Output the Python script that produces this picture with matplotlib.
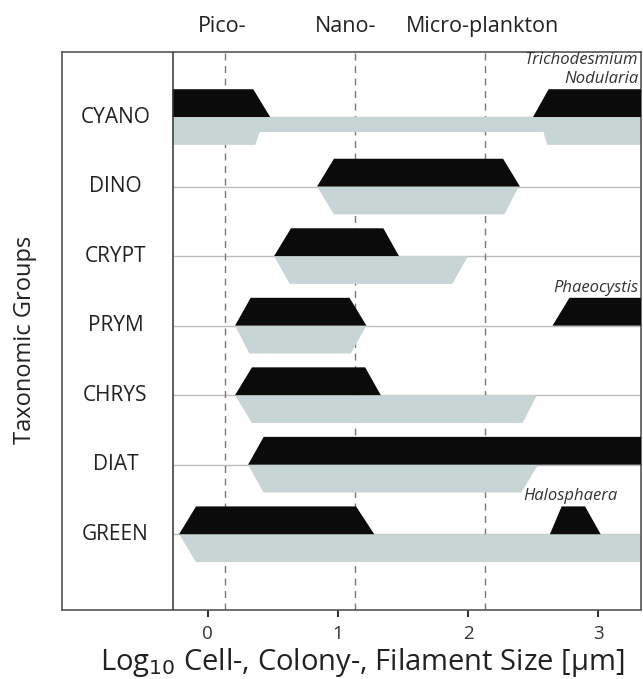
import matplotlib.pyplot as plt
from matplotlib.patches import Polygon
from matplotlib.transforms import blended_transform_factory

plt.rcParams['font.family'] = ['Open Sans', 'DejaVu Sans']

# taxonomic groups, top to bottom
groups = ["CYANO", "DINO", "CRYPT", "PRYM", "CHRYS", "DIAT", "GREEN"]

# black ranges: (bottom-left, top-left, top-right, bottom-right), log10 um
black_ranges = {
    "CYANO": [(-0.27, -0.27, 0.35, 0.48), (2.50, 2.62, 3.6, 3.6)],
    "DINO": [(0.84, 0.97, 2.27, 2.40)],
    "CRYPT": [(0.51, 0.64, 1.35, 1.47)],
    "PRYM": [(0.21, 0.33, 1.09, 1.22), (2.65, 2.78, 3.6, 3.6)],
    "CHRYS": [(0.21, 0.34, 1.21, 1.33)],
    "DIAT": [(0.31, 0.43, 3.6, 3.6)],
    "GREEN": [(-0.22, -0.09, 1.14, 1.28), (2.63, 2.72, 2.90, 3.02)],
}

# grey ranges: (top-left, bottom-left, bottom-right, top-right)
grey_ranges = {
    "CYANO": [(-0.27, -0.27, 0.365, 0.44), (2.545, 2.61, 3.6, 3.6)],
    "DINO": [(0.84, 0.97, 2.28, 2.39)],
    "CRYPT": [(0.51, 0.63, 1.88, 2.00)],
    "PRYM": [(0.21, 0.32, 1.10, 1.22)],
    "CHRYS": [(0.21, 0.34, 2.42, 2.53)],
    "DIAT": [(0.31, 0.43, 2.41, 2.54)],
    "GREEN": [(-0.22, -0.09, 3.6, 3.6)],
}
# thin grey band joining the two CYANO ranges
grey_bridge = {"CYANO": (0.40, 2.58)}

notes = [("CYANO", 3.31, "Trichodesmium\nNodularia"),
         ("PRYM", 3.31, "Phaeocystis"),
         ("GREEN", 2.79, "Halosphaera")]

size_classes = ["Pico-", "Nano-", "Micro-plankton"]
class_pos = [0.11, 1.06, 2.11]
class_bounds = [0.135, 1.13, 2.13]
xticks = [0, 1, 2, 3]

fig = plt.figure(figsize=(6.43, 6.79), dpi=100)
ax = fig.add_axes([0.0964, 0.1016, 0.9005, 0.8218])

x_min, x_max = -1.12, 3.33
spine_x = -0.27
h = 0.40
ypos = {g: len(groups) - 1 - i for i, g in enumerate(groups)}

ax.set_xlim(x_min, x_max)
ax.set_ylim(-1.09, 6.935)

for g in groups:
    y = ypos[g]
    ax.hlines(y, spine_x, x_max, color='#bdbdbd', lw=1, zorder=1)
    for bl, tl, tr, br in black_ranges[g]:
        ax.add_patch(Polygon([(bl, y), (tl, y + h), (tr, y + h), (br, y)],
                             closed=True, fc='#0a0b0a', ec='none', zorder=3))
    for tl, bl, br, tr in grey_ranges[g]:
        ax.add_patch(Polygon([(tl, y), (bl, y - h), (br, y - h), (tr, y)],
                             closed=True, fc='#c8d5d5', ec='none', zorder=2))
    if g in grey_bridge:
        a, b = grey_bridge[g]
        ax.add_patch(Polygon([(a, y), (b, y), (b, y - 0.215), (a, y - 0.215)],
                             closed=True, fc='#c8d5d5', ec='none', zorder=2))
    ax.text(-0.71, y, g, ha='center', va='center', fontsize=15, color='#222222')

for g, x, txt in notes:
    ha = 'right' if x > 3 else 'center'
    ax.text(x, ypos[g] + h + 0.03, txt, ha=ha, va='bottom', fontsize=12,
            style='italic', color='#333333', linespacing=1.3, zorder=4)

for xb in class_bounds:
    ax.axvline(xb, color='#777777', lw=1, ls=(0, (5, 4)), zorder=1.5)
ax.axvline(spine_x, color='#333333', lw=1.1, zorder=4)

trans = blended_transform_factory(ax.transData, ax.transAxes)
for lab, xp in zip(size_classes, class_pos):
    ax.text(xp, 1.045, lab, transform=trans, ha='center', va='center',
            fontsize=15.5, color='#222222')

ax.set_xticks(xticks)
ax.set_yticks([])
ax.tick_params(axis='x', direction='out', length=5, width=1.5, colors='#333333',
               labelsize=13.5, pad=6)
for s in ax.spines.values():
    s.set_color('#555555')
    s.set_linewidth(1.2)

fig.text(0.563, 0.024, 'Log$_{10}$ Cell-, Colony-, Filament Size [µm]',
         ha='center', va='center', fontsize=21, color='#222222')
fig.text(0.039, 0.50, 'Taxonomic Groups', rotation=90, ha='center', va='center',
         fontsize=17, color='#222222')

fig.savefig('out.png', dpi=100)
